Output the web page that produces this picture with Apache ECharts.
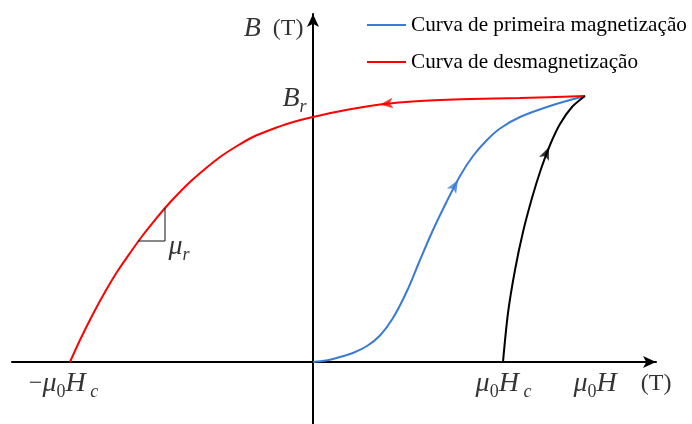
<!DOCTYPE html>
<html>
<head>
<meta charset="utf-8">
<script src="https://cdn.jsdelivr.net/npm/echarts@6/dist/echarts.min.js"></script>
<style>
  html, body { margin: 0; padding: 0; background: #fff; }
  #myChart { width: 692px; height: 424px; }
</style>
</head>
<body>
<div id="myChart"></div>
<script>
// curves, x = mu0*H, y = B (arbitrary units)
var firstMagnetization = [
    [0, 0], [0.13, 0.015], [0.27, 0.05], [0.41, 0.095], [0.54, 0.16], [0.67, 0.265],
    [0.80, 0.44], [0.94, 0.71], [1.07, 1.02], [1.20, 1.32], [1.34, 1.61], [1.47, 1.86],
    [1.60, 2.06], [1.74, 2.22], [1.87, 2.335], [2.07, 2.45], [2.40, 2.57], [2.72, 2.66]
];
var demagnetization = [
    [2.72, 2.66], [2.07, 2.64], [1.57, 2.63], [1.07, 2.61], [0.67, 2.575], [0.33, 2.52],
    [0, 2.45], [-0.23, 2.39], [-0.43, 2.32], [-0.60, 2.25], [-0.76, 2.16], [-0.93, 2.05],
    [-1.08, 1.93], [-1.23, 1.80], [-1.36, 1.67], [-1.48, 1.54], [-1.58, 1.42], [-1.70, 1.27],
    [-1.83, 1.09], [-1.96, 0.90], [-2.08, 0.70], [-2.20, 0.48], [-2.33, 0.22], [-2.43, 0]
];
var returnCurve = [
    [1.90, 0], [1.95, 0.49], [2.02, 0.92], [2.10, 1.30], [2.19, 1.64], [2.28, 1.93],
    [2.37, 2.17], [2.47, 2.38], [2.59, 2.55], [2.72, 2.66]
];
var slopeTriangle = [[-1.48, 1.54], [-1.48, 1.21], [-1.75, 1.21]];
// where the direction arrows sit on each curve
var arrowRed = [0.67, 2.575];
var arrowBlue = [1.45, 1.82];
var arrowBlack = [2.36, 2.15];

var legendNames = ['Curva de primeira magnetização', 'Curva de desmagnetização'];
var Hc = 1.90, minusHc = -2.43;

var serif = '"Liberation Serif", "Times New Roman", serif';

// direction of a curve at a point (same px per unit on both axes)
function arrowAngle(curve, p) {
    var best = 0, d = Infinity;
    for (var i = 0; i < curve.length; i++) {
        var dd = Math.pow(curve[i][0] - p[0], 2) + Math.pow(curve[i][1] - p[1], 2);
        if (dd < d) { d = dd; best = i; }
    }
    var a = curve[Math.max(best - 1, 0)], b = curve[Math.min(best + 1, curve.length - 1)];
    return Math.atan2(b[1] - a[1], b[0] - a[0]) * 180 / Math.PI - 90;
}

var mathRich = {
    i: { fontFamily: serif, fontStyle: 'italic', fontSize: 28, lineHeight: 36, color: '#000' },
    n: { fontFamily: serif, fontSize: 24, lineHeight: 36, color: '#000' },
    s: { fontFamily: serif, fontSize: 18, lineHeight: 17, verticalAlign: 'bottom', color: '#000' },
    si: { fontFamily: serif, fontStyle: 'italic', fontSize: 18, lineHeight: 17, verticalAlign: 'bottom', color: '#000' },
    g: { fontFamily: serif, fontSize: 18, lineHeight: 17, verticalAlign: 'bottom' }
};

var textLabels = [
    { value: [0, 3.33], text: '{i|B}{n|  (T)}', align: 'right', verticalAlign: 'middle', offset: [-9, 0] },
    { value: [0, 2.63], text: '{i|B}{si|r}', align: 'right', verticalAlign: 'middle', offset: [-6, 0] },
    { value: [-1.48, 1.21], text: '{i|μ}{si|r}', align: 'left', verticalAlign: 'middle', offset: [4, 6] },
    { value: [minusHc, 0], text: '{n|−}{i|μ}{s|0}{i|H}{g| }{si|c}', align: 'center', verticalAlign: 'top', offset: [-6, 4] },
    { value: [Hc, 0], text: '{i|μ}{s|0}{i|H}{g| }{si|c}', align: 'center', verticalAlign: 'top', offset: [1, 4] },
    { value: [3.07, 0], text: '{i|μ}{s|0}{i|H}{n|    (T)}', align: 'center', verticalAlign: 'top', offset: [3, 4] }
];

var myChart = echarts.init(document.getElementById('myChart'));

function curve(name, data, color) {
    return {
        name: name,
        type: 'line',
        data: data,
        smooth: 0.3,
        symbol: 'none',
        lineStyle: { color: color, width: 2 },
        itemStyle: { color: color },
        z: 3
    };
}

function arrowSeries(p, c, color) {
    return {
        type: 'scatter',
        data: [p],
        symbol: 'arrow',
        symbolSize: [8, 13],
        symbolRotate: arrowAngle(c, p),
        itemStyle: { color: color },
        silent: true,
        z: 4
    };
}

var option = {
    animation: false,
    backgroundColor: '#fff',
    grid: { left: 12, right: 36, top: 14, bottom: 0 },
    legend: {
        orient: 'vertical',
        left: 362,
        top: 8,
        icon: 'rect',
        itemWidth: 39,
        itemHeight: 2,
        itemGap: 13,
        data: legendNames,
        textStyle: { fontFamily: serif, fontSize: 21.2, lineHeight: 24, color: '#000' }
    },
    xAxis: {
        type: 'value',
        min: -3.01,
        max: 3.43,
        axisLine: {
            onZero: true,
            symbol: ['none', 'arrow'],
            symbolSize: [9, 13],
            lineStyle: { color: '#000', width: 2 }
        },
        axisTick: { show: false },
        axisLabel: { show: false },
        splitLine: { show: false }
    },
    yAxis: {
        type: 'value',
        min: -0.62,
        max: 3.48,
        axisLine: {
            onZero: true,
            symbol: ['none', 'arrow'],
            symbolSize: [9, 13],
            lineStyle: { color: '#000', width: 2 }
        },
        axisTick: { show: false },
        axisLabel: { show: false },
        splitLine: { show: false }
    },
    series: [
        curve(legendNames[0], firstMagnetization, '#3a7bd5'),
        curve(legendNames[1], demagnetization, '#ff0000'),
        curve('retorno', returnCurve, '#000'),
        {
            type: 'line',
            data: slopeTriangle,
            symbol: 'none',
            lineStyle: { color: '#111', width: 1 },
            silent: true
        },
        arrowSeries(arrowRed, demagnetization, '#ff0000'),
        arrowSeries(arrowBlue, firstMagnetization, '#3a7bd5'),
        arrowSeries(arrowBlack, returnCurve, '#000'),
        {
            type: 'scatter',
            symbolSize: 1,
            itemStyle: { color: 'rgba(0,0,0,0)' },
            silent: true,
            data: textLabels.map(function (t) {
                return {
                    value: t.value,
                    label: {
                        show: true,
                        formatter: t.text,
                        position: t.offset,
                        align: t.align,
                        verticalAlign: t.verticalAlign,
                        rich: mathRich
                    }
                };
            })
        }
    ]
};

myChart.setOption(option);
</script>
</body>
</html>
